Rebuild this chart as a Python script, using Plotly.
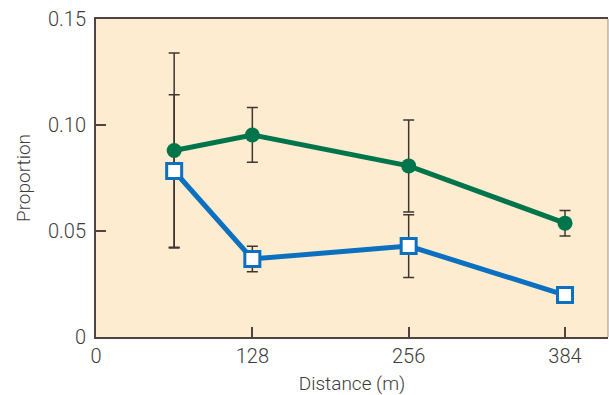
import plotly.graph_objects as go

distance = [64, 128, 256, 384]
green_vals = [0.088, 0.0953, 0.0807, 0.0537]
green_err = [0.046, 0.0129, 0.0217, 0.006]
blue_vals = [0.0783, 0.0368, 0.0429, 0.0198]
blue_err = [0.036, 0.006, 0.0148, 0.0]

x_ticks = [0, 128, 256, 384]
x_tick_labels = ["0", "128", "256", "384"]
y_ticks = [0, 0.05, 0.10, 0.15]
y_tick_labels = ["0", "0.05", "0.10", "0.15"]

GREEN = "#00744a"
BLUE = "#0a70bf"
BAR = "#3e3632"
BG = "#fdecd0"
AXIS = "#4e4540"
TICKFONT = dict(family="Roboto", size=20, color="#3c3c3c", weight=300)
TITLEFONT = dict(family="Roboto", size=19, color="#3c3c3c", weight=300)

fig = go.Figure()

for vals, err in [(green_vals, green_err), (blue_vals, blue_err)]:
    fig.add_trace(go.Scatter(
        x=distance, y=vals, mode="markers",
        marker=dict(size=1, color="rgba(0,0,0,0)"),
        error_y=dict(type="data", array=err, visible=True,
                     color=BAR, thickness=1.5, width=5.5),
        hoverinfo="skip", showlegend=False,
    ))

fig.add_trace(go.Scatter(
    x=distance, y=green_vals, mode="lines+markers",
    line=dict(color=GREEN, width=5),
    marker=dict(symbol="circle", size=15, color=GREEN),
    showlegend=False,
))
fig.add_trace(go.Scatter(
    x=distance, y=blue_vals, mode="lines+markers",
    line=dict(color=BLUE, width=5),
    marker=dict(symbol="square", size=15, color="white",
                line=dict(color=BLUE, width=3)),
    showlegend=False,
))

fig.add_shape(type="line", xref="paper", yref="paper", x0=1, x1=1, y0=0, y1=1,
              line=dict(color="#9a8f86", width=1))

fig.update_layout(
    width=609, height=395,
    margin=dict(l=96, r=1, t=19, b=58),
    paper_bgcolor="white",
    plot_bgcolor=BG,
    font=TICKFONT,
    xaxis=dict(
        range=[0, 419.2], tickvals=x_ticks, ticktext=x_tick_labels,
        ticks="inside", ticklen=10, tickwidth=1.5, tickcolor=AXIS,
        showline=True, linecolor=AXIS, linewidth=2, mirror=True,
        showgrid=False, zeroline=False,
        tickfont=TICKFONT, ticklabelstandoff=0,
        title=dict(text="Distance (m)", font=TITLEFONT, standoff=10),
    ),
    yaxis=dict(
        range=[0, 0.15], tickvals=y_ticks, ticktext=y_tick_labels,
        ticks="inside", ticklen=10, tickwidth=1.5, tickcolor=AXIS,
        showline=True, linecolor=AXIS, linewidth=2,
        showgrid=False, zeroline=False,
        tickfont=TICKFONT, ticklabelstandoff=4,
        title=dict(text="Proportion", font=TITLEFONT, standoff=12),
    ),
)

fig.write_html("out.html", config={"displayModeBar": False},
               post_script="document.body.style.margin='0';")
